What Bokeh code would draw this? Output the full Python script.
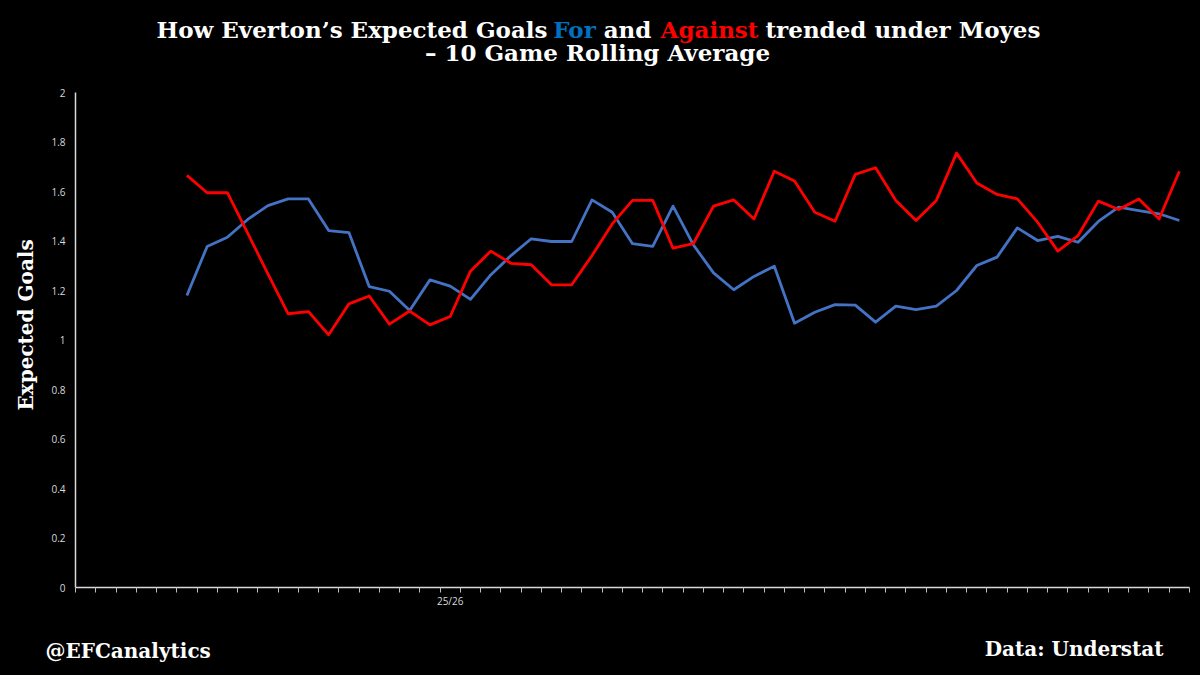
from bokeh.plotting import figure
from bokeh.layouts import column
from bokeh.models import Range1d, FixedTicker, NumeralTickFormatter, ColumnDataSource, Title
from bokeh.core.properties import value
from bokeh.embed import file_html
from bokeh.resources import INLINE

NAN = float("nan")

# ---- data ----
n_games = 55
season_label = "25/26"
season_label_game = 18          # category index that carries the season label
y_ticks = [0, 0.2, 0.4, 0.6, 0.8, 1, 1.2, 1.4, 1.6, 1.8, 2]

xg_for = [NAN, NAN, NAN, NAN, NAN,
          1.180, 1.378, 1.415, 1.487, 1.543, 1.570, 1.570, 1.442, 1.434, 1.216,
          1.197, 1.119, 1.243, 1.218, 1.164, 1.263, 1.341, 1.409, 1.398, 1.398,
          1.566, 1.516, 1.389, 1.378, 1.541, 1.385, 1.271, 1.203, 1.257, 1.298,
          1.068, 1.112, 1.143, 1.141, 1.072, 1.137, 1.123, 1.137, 1.200, 1.301,
          1.335, 1.453, 1.402, 1.419, 1.395, 1.479, 1.537, 1.523, 1.510, 1.483]

xg_against = [NAN, NAN, NAN, NAN, NAN,
              1.665, 1.595, 1.595, 1.432, 1.267, 1.106, 1.115, 1.021, 1.146, 1.178,
              1.064, 1.117, 1.061, 1.095, 1.278, 1.359, 1.310, 1.304, 1.223, 1.223,
              1.341, 1.469, 1.564, 1.564, 1.371, 1.389, 1.541, 1.566, 1.489, 1.682,
              1.642, 1.516, 1.480, 1.669, 1.696, 1.564, 1.483, 1.564, 1.755, 1.634,
              1.588, 1.570, 1.476, 1.359, 1.422, 1.561, 1.527, 1.570, 1.489, 1.682]

title_text = ["How Everton\u2019s Expected Goals", "For", "and", "Against", "trended under Moyes"]
subtitle_text = "\u2013 10 Game Rolling Average"
y_label = "Expected Goals"
credit_text = "@EFCanalytics"
source_text = "Data: Understat"

# ---- layout ----
W = 1192
TOP_H, MAIN_H, FOOT_H = 70, 547, 50
BL, BR, BT, BB = 74, 3, 22, 30
SFONT = "DejaVu Serif"


def banner(h):
    f = figure(width=W, height=h, x_range=Range1d(0, W), y_range=Range1d(h, 0),
               output_backend="svg", toolbar_location=None,
               background_fill_color="black", border_fill_color="black",
               min_border=0, x_axis_type=None, y_axis_type=None, frame_align=False)
    f.outline_line_color = None
    f.xgrid.visible = False
    f.ygrid.visible = False
    return f


# title banner
top = banner(TOP_H)
tstyle = dict(text_baseline="middle", text_font=value(SFONT), text_font_style="bold",
              text_font_size="23px")
top.text(x=[547], y=[29], text=[title_text[0]], text_color="white", text_align="right", **tstyle)
top.text(x=[574], y=[29], text=[title_text[1]], text_color="#0070C0", text_align="center", **tstyle)
top.text(x=[627], y=[29], text=[title_text[2]], text_color="white", text_align="center", **tstyle)
top.text(x=[709], y=[29], text=[title_text[3]], text_color="#FF0000", text_align="center", **tstyle)
top.text(x=[765], y=[29], text=[title_text[4]], text_color="white", text_align="left", **tstyle)
top.text(x=[597], y=[52], text=[subtitle_text], text_color="white", text_align="center", **tstyle)

# main chart
games = [i + 0.5 for i in range(n_games)]
src = ColumnDataSource(dict(x=games, xg_for=xg_for, xg_against=xg_against))

p = figure(width=W, height=MAIN_H, x_range=Range1d(0, n_games), y_range=Range1d(0, 2),
           output_backend="svg", toolbar_location=None,
           background_fill_color="black", border_fill_color="black",
           min_border_left=BL, min_border_right=BR, min_border_top=BT, min_border_bottom=BB,
           frame_align=False)
p.outline_line_color = None
p.xgrid.visible = False
p.ygrid.visible = False

p.line("x", "xg_for", source=src, line_color="#4472C4", line_width=2.8, line_join="round")
p.line("x", "xg_against", source=src, line_color="#FF0000", line_width=2.8, line_join="round")

xa = p.xaxis[0]
xa.ticker = FixedTicker(ticks=[season_label_game + 0.5], minor_ticks=list(range(n_games + 1)))
xa.major_label_overrides = {season_label_game + 0.5: season_label}
xa.major_tick_line_color = None
xa.major_tick_in = 0
xa.major_tick_out = 0
xa.minor_tick_line_color = "#BFBFBF"
xa.minor_tick_in = 0
xa.minor_tick_out = 5
xa.axis_line_color = "#D9D9D9"
xa.axis_line_width = 1.5
xa.major_label_text_color = "#D9D9D9"
xa.major_label_text_font = "Open Sans"
xa.major_label_text_font_size = "10px"
xa.major_label_standoff = 1

ya = p.yaxis[0]
ya.ticker = FixedTicker(ticks=y_ticks)
ya.formatter = NumeralTickFormatter(format="0.[0]")
ya.major_tick_line_color = None
ya.minor_tick_line_color = None
ya.major_tick_in = 0
ya.major_tick_out = 0
ya.major_label_standoff = 10
ya.axis_line_color = "#D9D9D9"
ya.axis_line_width = 1.5
ya.major_label_text_color = "#D9D9D9"
ya.major_label_text_font = "Open Sans"
ya.major_label_text_font_size = "10px"

p.add_layout(Title(text=y_label, align="left", offset=177, text_color="white",
                   text_font=SFONT, text_font_style="bold", text_font_size="20px",
                   standoff=22), "left")

# footer banner
foot = banner(FOOT_H)
fstyle = dict(text_baseline="middle", text_font=value(SFONT), text_font_style="bold",
              text_font_size="20px", text_color="white")
foot.text(x=[45], y=[33], text=[credit_text], text_align="left", **fstyle)
foot.text(x=[1163], y=[31], text=[source_text], text_align="right", **fstyle)

layout = column(top, p, foot, spacing=0)
layout.styles = {"background-color": "black"}

html = file_html(layout, INLINE)
html = html.replace("<head>", "<head><style>html,body{background:#000;}</style>", 1)
open("out.html", "w").write(html)
